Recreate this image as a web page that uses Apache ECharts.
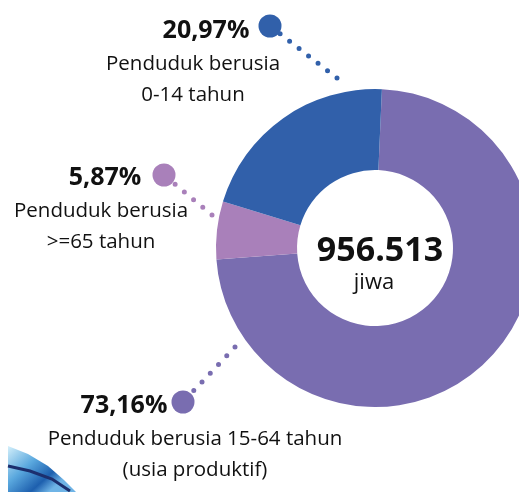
<!DOCTYPE html>
<html>
<head>
<meta charset="utf-8">
<script src="https://cdn.jsdelivr.net/npm/echarts@6/dist/echarts.min.js"></script>
<style>
  html, body { margin: 0; padding: 0; background: #fff; }
  #main { width: 519px; height: 492px; }
</style>
</head>
<body>
<div id="main"></div>
<script>
// data komposisi penduduk
const categories = ['Penduduk berusia 15-64 tahun', 'Penduduk berusia >=65 tahun', 'Penduduk berusia 0-14 tahun'];
const shares = [73.16, 5.87, 20.97];
const shareLabels = ['73,16%', '5,87%', '20,97%'];
const descLines = [
  ['Penduduk berusia 15-64 tahun', '(usia produktif)'],
  ['Penduduk berusia', '>=65 tahun'],
  ['Penduduk berusia', '0-14 tahun']
];
const totalPopulation = 956513;
const totalUnit = 'jiwa';

const sliceColors = ['#796db0', '#a980ba', '#3160aa'];

// posisi label (layout saja, bukan data)
const labelLayouts = [
  { x: 195, top: 388, pctPad: [0, 142, 0, 0], dot: [183, 402], from: [235, 347] },
  { x: 101, top: 160, pctPad: [0, 0, 0, 8], dot: [164, 175], from: [212, 215] },
  { x: 193, top: 13, pctPad: [0, 0, 0, 26], dot: [270, 26], from: [337, 78] }
];

const FONT = '"Open Sans", "Noto Sans", sans-serif';

function formatTotal(n) {
  return String(n).replace(/\B(?=(\d{3})+(?!\d))/g, '.');
}

var rich = {};
labelLayouts.forEach(function (l, i) {
  rich['pct' + i] = {
    fontFamily: FONT, fontSize: 25, fontWeight: 'bold', color: '#111',
    lineHeight: 35, align: 'center', padding: l.pctPad
  };
  rich['a' + i] = {
    fontFamily: FONT, fontSize: 20.5, color: '#111', lineHeight: 32, align: 'center'
  };
  rich['b' + i] = {
    fontFamily: FONT, fontSize: 20.5, color: '#111', lineHeight: 31, align: 'center'
  };
});

var chart = echarts.init(document.getElementById('main'), null, { renderer: 'canvas' });

var option = {
  animation: false,
  backgroundColor: '#fff',
  graphic: [
    // hiasan kiri bawah
    {
      type: 'polygon', z: 1,
      shape: { points: [[8, 446], [28, 454], [48, 466], [64, 480], [76, 492], [8, 492]] },
      style: {
        fill: new echarts.graphic.LinearGradient(0, 0, 0.6, 1, [
          { offset: 0, color: '#d4f0fb' },
          { offset: 0.45, color: '#5aa8de' },
          { offset: 0.8, color: '#1d5fae' },
          { offset: 1, color: '#6fb4e6' }
        ])
      }
    },
    {
      type: 'polyline', z: 2,
      shape: { points: [[8, 466], [30, 471], [52, 479], [70, 491]] },
      style: { stroke: '#1c2f6e', lineWidth: 3, fill: null }
    },
    // titik besar di ujung garis
    ...labelLayouts.map(function (l, i) {
      return {
        type: 'circle', z: 100,
        shape: { cx: l.dot[0], cy: l.dot[1], r: 11.5 },
        style: { fill: sliceColors[i] }
      };
    }),
    // total di tengah
    {
      type: 'text', z: 100,
      x: 380, y: 251,
      style: {
        text: formatTotal(totalPopulation),
        font: 'bold 34px ' + FONT,
        fill: '#111',
        align: 'center',
        verticalAlign: 'middle'
      }
    },
    {
      type: 'text', z: 100,
      x: 374, y: 283,
      style: {
        text: totalUnit,
        font: '22px ' + FONT,
        fill: '#111',
        align: 'center',
        verticalAlign: 'middle'
      }
    }
  ],
  series: [{
    type: 'pie',
    center: [375, 248],
    radius: [78, 159],
    startAngle: 87.5,
    clockwise: true,
    avoidLabelOverlap: false,
    silent: true,
    itemStyle: { borderWidth: 0 },
    label: {
      show: true,
      position: 'outside',
      align: 'center',
      formatter: function (p) {
        var i = p.dataIndex;
        return '{pct' + i + '|' + shareLabels[i] + '}\n{a' + i + '|' + descLines[i][0] + '}\n{b' + i + '|' + descLines[i][1] + '}';
      },
      rich: rich
    },
    labelLine: {
      show: true,
      lineStyle: { width: 5, type: [0, 12], cap: 'round' }
    },
    labelLayout: function (params) {
      var l = labelLayouts[params.dataIndex];
      var mid = [(l.from[0] + l.dot[0]) / 2, (l.from[1] + l.dot[1]) / 2];
      return {
        x: l.x,
        y: l.top,
        align: 'center',
        verticalAlign: 'top',
        labelLinePoints: [l.from, mid, l.dot]
      };
    },
    data: categories.map(function (c, i) {
      return { name: c, value: shares[i], itemStyle: { color: sliceColors[i] } };
    })
  }]
};

chart.setOption(option);
</script>
</body>
</html>
